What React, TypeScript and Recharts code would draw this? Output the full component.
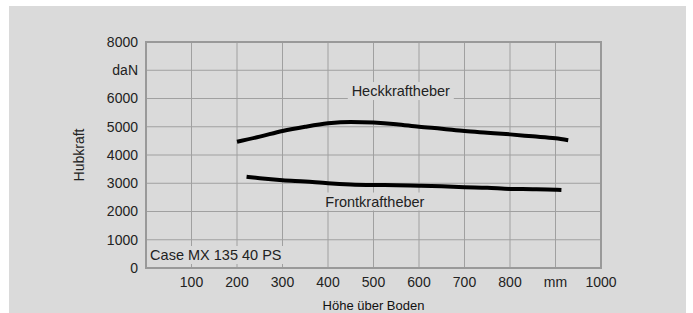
import React from "react";
import {
  LineChart,
  Line,
  XAxis,
  YAxis,
  CartesianGrid,
  ReferenceArea,
  ReferenceDot,
} from "recharts";

// Hubkraft (daN) über Hubhöhe (mm)
const heckHeights = [200, 250, 300, 350, 400, 450, 500, 550, 600, 650, 700, 750, 800, 850, 900, 928];
const heckForces = [4470, 4650, 4850, 5000, 5120, 5170, 5150, 5090, 5000, 4930, 4850, 4790, 4730, 4660, 4590, 4520];

const frontHeights = [221, 250, 300, 350, 400, 450, 500, 550, 600, 650, 700, 750, 800, 850, 900, 913];
const frontForces = [3230, 3180, 3110, 3060, 3000, 2960, 2940, 2930, 2910, 2890, 2860, 2840, 2800, 2790, 2770, 2760];

const xTicks = [0, 100, 200, 300, 400, 500, 600, 700, 800, 900, 1000];
const yTicks = [0, 1000, 2000, 3000, 4000, 5000, 6000, 7000, 8000];

const heckData = heckHeights.map((x, i) => ({ x, y: heckForces[i] }));
const frontData = frontHeights.map((x, i) => ({ x, y: frontForces[i] }));

const FONT = "'Liberation Sans', Arial, sans-serif";
const BG = "#dadada";

const xFmt = (v: number) => (v === 0 ? "" : v === 900 ? "mm" : String(v));
const yFmt = (v: number) => (v === 7000 ? "daN" : String(v));

// text with a background box that hides the grid behind it
const boxedLabel = (text: string, w: number, anchor: "middle" | "start") => (props: any) => {
  const { cx, cy } = props;
  const left = anchor === "middle" ? cx - w / 2 : cx - 2;
  return (
    <g>
      <rect x={left} y={cy - 9} width={w} height={18} fill={BG} />
      <text
        x={cx}
        y={cy}
        dy="0.35em"
        textAnchor={anchor}
        fontFamily={FONT}
        fontSize={14.5}
        fill="#222"
      >
        {text}
      </text>
    </g>
  );
};

export default function App() {
  return (
    <div style={{ position: "absolute", left: 0, top: 0, width: 693, height: 313, background: "#fff" }}>
      <div style={{ position: "absolute", left: 9, top: 6, width: 677, height: 307, background: BG }} />
      <div style={{ position: "absolute", left: 0, top: 0 }}>
        <LineChart width={693} height={313} margin={{ top: 42, right: 92, bottom: 0, left: 60 }}>
          <CartesianGrid stroke="#a0a0a0" strokeWidth={1} />
          <XAxis
            type="number"
            dataKey="x"
            domain={[0, 1000]}
            ticks={xTicks}
            tickFormatter={xFmt}
            axisLine={false}
            tickLine={false}
            tickMargin={3}
            height={45}
            tick={{ fill: "#222", fontSize: 14, fontFamily: FONT }}
            label={{
              value: "Höhe über Boden",
              position: "insideBottom",
              offset: 3,
              fill: "#111",
              fontSize: 13,
              fontFamily: FONT,
            }}
          />
          <YAxis
            type="number"
            dataKey="y"
            domain={[0, 8000]}
            ticks={yTicks}
            tickFormatter={yFmt}
            axisLine={false}
            tickLine={false}
            width={86}
            tick={{ fill: "#222", fontSize: 14, fontFamily: FONT }}
            label={{
              value: "Hubkraft",
              angle: -90,
              position: "insideLeft",
              offset: 19,
              fill: "#222",
              fontSize: 14,
              fontFamily: FONT,
              style: { textAnchor: "middle" },
            }}
          />
          <ReferenceArea
            x1={0}
            x2={1000}
            y1={0}
            y2={8000}
            fill="none"
            fillOpacity={0}
            stroke="#999"
            strokeWidth={2}
          />
          <Line
            data={heckData}
            dataKey="y"
            type="monotone"
            stroke="#000"
            strokeWidth={4}
            dot={false}
            isAnimationActive={false}
          />
          <Line
            data={frontData}
            dataKey="y"
            type="monotone"
            stroke="#000"
            strokeWidth={4}
            dot={false}
            isAnimationActive={false}
          />
          <ReferenceDot x={560} y={6265} shape={boxedLabel("Heckkraftheber", 106, "middle")} />
          <ReferenceDot x={503} y={2354} shape={boxedLabel("Frontkraftheber", 106, "middle")} />
          <ReferenceDot x={9} y={460} shape={boxedLabel("Case MX 135 40 PS", 138, "start")} />
        </LineChart>
      </div>
    </div>
  );
}
